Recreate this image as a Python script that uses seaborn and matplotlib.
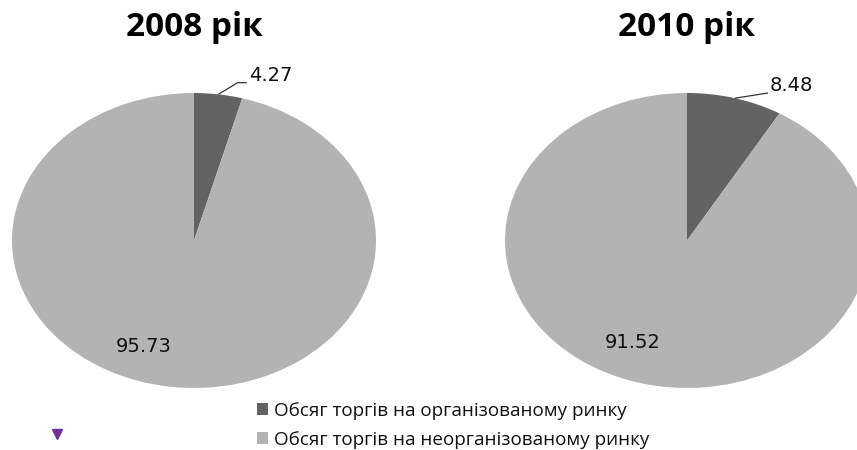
import matplotlib
matplotlib.use("Agg")
import matplotlib.pyplot as plt
from matplotlib.lines import Line2D
from matplotlib.patches import Patch
import numpy as np
import seaborn as sns

# Trading volume shares, %
years = ["2008 рік", "2010 рік"]
organized = [4.27, 8.48]
unorganized = [95.73, 91.52]
series_names = ["Обсяг торгів на організованому ринку",
                "Обсяг торгів на неорганізованому ринку"]

sns.set_theme(style="white")
plt.rcParams["font.family"] = ["Open Sans", "DejaVu Sans"]

colors = ["#636363", "#b3b3b3"]
W, H = 857, 450
fig = plt.figure(figsize=(W / 100, H / 100), dpi=100)

# pie boxes in pixels: left, top, width, height
boxes = [(12, 93, 364, 295), (505, 93, 364, 295)]
title_x = [194, 687]
# inner label position (axes data units) for the large slice
inner_pos = [(-0.275, -0.72), (-0.30, -0.69)]
# leader line: bend point and end point, text offset
outer_bend = [(0.24, 1.07), (0.445, 1.00)]
leader_tail = [0.05, 0.0]
text_dy = [0.05, 0.05]

for i, (l, t, w, h) in enumerate(boxes):
    ax = fig.add_axes([l / W, 1 - (t + h) / H, w / W, h / H])
    vals = [organized[i], unorganized[i]]
    wedges, _ = ax.pie(vals, colors=colors, startangle=90, counterclock=False,
                       radius=1, wedgeprops=dict(linewidth=0))
    ax.set_aspect("auto")
    ax.set_xlim(-1, 1)
    ax.set_ylim(-1, 1)
    ax.axis("off")
    for wd in wedges:
        wd.set_clip_on(False)

    # small slice: label with leader line from the rim at the slice middle
    mid = np.deg2rad(90 - 360 * vals[0] / sum(vals) / 2)
    bx, by = outer_bend[i]
    tx = bx + leader_tail[i]
    ax.plot([np.cos(mid), bx, tx], [np.sin(mid), by, by], color="#333333",
            lw=0.9, solid_capstyle="butt", clip_on=False)
    ax.text(tx + 0.01, by + text_dy[i], f"{vals[0]:.2f}", ha="left",
            va="center", fontsize=14, family=["DejaVu Sans"], color="#111111")
    px, py = inner_pos[i]
    ax.text(px, py, f"{vals[1]:.2f}", ha="center", va="center",
            fontsize=14, family=["DejaVu Sans"], color="#111111")

    fig.text(title_x[i] / W, 1 - 28 / H, years[i], ha="center", va="center",
             fontsize=24, fontweight="bold", color="black")

handles = [Patch(facecolor=c, edgecolor="none") for c in colors]
fig.legend(handles, series_names, loc="upper left",
           bbox_to_anchor=(257 / W, 1 - 402 / H), frameon=False,
           fontsize=13.6, handlelength=0.6, handleheight=0.6,
           handletextpad=0.3, labelspacing=0.58, borderaxespad=0,
           borderpad=0, labelcolor="#111111")

# small purple marker at lower left
fig.add_artist(Line2D([57 / W], [1 - 434 / H], marker="v", markersize=7,
                      color="#7030a0", transform=fig.transFigure,
                      linestyle="none"))

fig.savefig("out.png", dpi=100)
